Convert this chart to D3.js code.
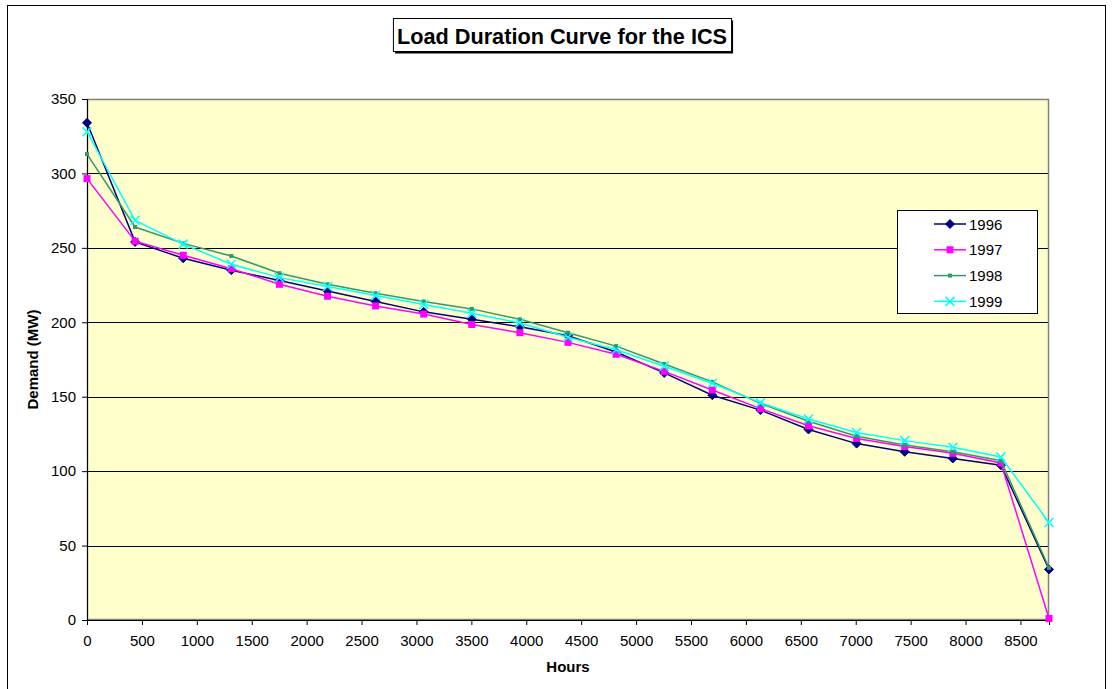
<!DOCTYPE html>
<html><head><meta charset="utf-8">
<script src="https://cdn.jsdelivr.net/npm/d3@7"></script>
<style>
html,body{margin:0;padding:0;background:#fff;}
svg{display:block;font-family:"Liberation Sans",Arial,sans-serif;}
</style></head>
<body>
<svg id="chart" width="1113" height="689"></svg>
<script>
const hours = [0,438,876,1314,1752,2190,2628,3066,3504,3942,4380,4818,5256,5694,6132,6570,7008,7446,7884,8322,8760];
const seriesNames = ["1996","1997","1998","1999"];
const d1996 = [334,254,243,235,228,221,214,207,202,197,191,180,166,151,141,128,118.5,113,108.5,104,34];
const d1997 = [296.5,254.5,245,236,225.5,217.5,211,205.5,198.5,193,186.5,178.5,167,154.5,142,130.5,122,116.5,112,105.5,1];
const d1998 = [313,264,253,244.5,233,225.5,219.5,214,209,202,193,184,172,160,145.5,133.5,123.5,117.5,113,107,35];
const d1999 = [328,268.5,252.5,239,230,224,218,212,206,199.5,190,181.5,170.5,159,146,135,126,120.5,116,109.5,65.5];
const xTicks = [0,500,1000,1500,2000,2500,3000,3500,4000,4500,5000,5500,6000,6500,7000,7500,8000,8500];
const yTicks = [0,50,100,150,200,250,300,350];
const titleText = "Load Duration Curve for the ICS";
const xTitle = "Hours";
const yTitle = "Demand (MW)";

const svg = d3.select("#chart");
const L=87, R=1049, T=99, B=620;
const x = d3.scaleLinear().domain([0,8760]).range([L,R]);
const y = d3.scaleLinear().domain([0,350]).range([B,T]);

// outer chart border
svg.append("rect").attr("x",7.5).attr("y",5.5).attr("width",1098).attr("height",700)
  .attr("fill","#fff").attr("stroke","#000").attr("stroke-width",1);

// plot area
svg.append("rect").attr("x",L).attr("y",T).attr("width",R-L).attr("height",B-T)
  .attr("fill","#FFFFCC");

// gridlines
svg.append("g").selectAll("line").data(yTicks.filter(v=>v>0)).join("line")
  .attr("x1",L).attr("x2",R).attr("y1",d=>Math.round(y(d))+0.5).attr("y2",d=>Math.round(y(d))+0.5)
  .attr("stroke","#000").attr("stroke-width",1);

svg.append("rect").attr("x",L+0.5).attr("y",T+0.5).attr("width",R-L-1).attr("height",B-T-1)
  .attr("fill","none").attr("stroke","#808080").attr("stroke-width",1.5);

// axes
const xAxis = d3.axisBottom(x).tickValues(xTicks).tickSize(5).tickPadding(10).tickFormat(d3.format("d"));
const gx = svg.append("g").attr("transform",`translate(0,${B})`).call(xAxis);
gx.select(".domain").attr("stroke","#000");
gx.selectAll("text").attr("font-size",15).attr("fill","#000").attr("font-family","Liberation Sans, Arial, sans-serif");

const yAxis = d3.axisLeft(y).tickValues(yTicks).tickSize(5).tickPadding(6).tickFormat(d3.format("d"));
const gy = svg.append("g").attr("transform",`translate(${L},0)`).call(yAxis);
gy.select(".domain").attr("stroke","#000");
gy.selectAll("text").attr("font-size",15).attr("fill","#000").attr("font-family","Liberation Sans, Arial, sans-serif");

// axis titles
svg.append("text").attr("x",568).attr("y",672).attr("text-anchor","middle")
  .attr("font-size",15).attr("font-weight","bold").text(xTitle);
svg.append("text").attr("transform",`translate(38,${(T+B)/2}) rotate(-90)`).attr("text-anchor","middle")
  .attr("font-size",15).attr("font-weight","bold").text(yTitle);

// title with box + shadow
const tg = svg.append("g");
const tt = tg.append("text").attr("x",562).attr("y",44).attr("text-anchor","middle")
  .attr("font-size",21.7).attr("font-weight","bold").text(titleText);
const bb = tt.node().getBBox();
tg.insert("rect","text").attr("x",bb.x-4+2).attr("y",18.5+2).attr("width",bb.width+8).attr("height",33)
  .attr("fill","#000");
tg.insert("rect","text").attr("x",bb.x-4+0.5).attr("y",18.5).attr("width",bb.width+8).attr("height",33)
  .attr("fill","#fff").attr("stroke","#000").attr("stroke-width",1);
tt.raise();

// series
const series = [
  {name:seriesNames[0], values:d1996, color:"#000080", marker:"diamond"},
  {name:seriesNames[1], values:d1997, color:"#FF00FF", marker:"square"},
  {name:seriesNames[2], values:d1998, color:"#339966", marker:"small"},
  {name:seriesNames[3], values:d1999, color:"#00FFFF", marker:"x"}
];

function drawMarker(g, type, color){
  if(type==="diamond"){
    g.append("path").attr("d","M0,-4.5L4.5,0L0,4.5L-4.5,0Z").attr("fill",color).attr("stroke",color);
  } else if(type==="square"){
    g.append("rect").attr("x",-3.5).attr("y",-3.5).attr("width",7).attr("height",7).attr("fill",color);
  } else if(type==="small"){
    g.append("rect").attr("x",-2).attr("y",-2).attr("width",4).attr("height",4).attr("fill",color);
  } else {
    g.append("path").attr("d","M-4.5,-4.5L4.5,4.5M-4.5,4.5L4.5,-4.5").attr("stroke",color).attr("stroke-width",1.5).attr("fill","none");
  }
}

const line = d3.line().x((d,i)=>x(hours[i])).y(d=>y(d));
series.forEach(s=>{
  svg.append("path").datum(s.values).attr("d",line).attr("fill","none")
    .attr("stroke",s.color).attr("stroke-width",1.5);
  const mg = svg.append("g");
  s.values.forEach((v,i)=>{
    const g = mg.append("g").attr("transform",`translate(${x(hours[i])},${y(v)})`);
    drawMarker(g,s.marker,s.color);
  });
});

// legend
const lg = svg.append("g");
lg.append("rect").attr("x",897.5).attr("y",210.5).attr("width",140).attr("height",103)
  .attr("fill","#fff").attr("stroke","#000").attr("stroke-width",1);
series.forEach((s,i)=>{
  const yy = 224 + i*25.8;
  lg.append("line").attr("x1",934).attr("x2",966).attr("y1",yy).attr("y2",yy)
    .attr("stroke",s.color).attr("stroke-width",1.5);
  const g = lg.append("g").attr("transform",`translate(950,${yy})`);
  drawMarker(g,s.marker,s.color);
  lg.append("text").attr("x",969).attr("y",yy+5.5).attr("font-size",15).attr("fill","#000").text(s.name);
});
</script>
</body></html>
